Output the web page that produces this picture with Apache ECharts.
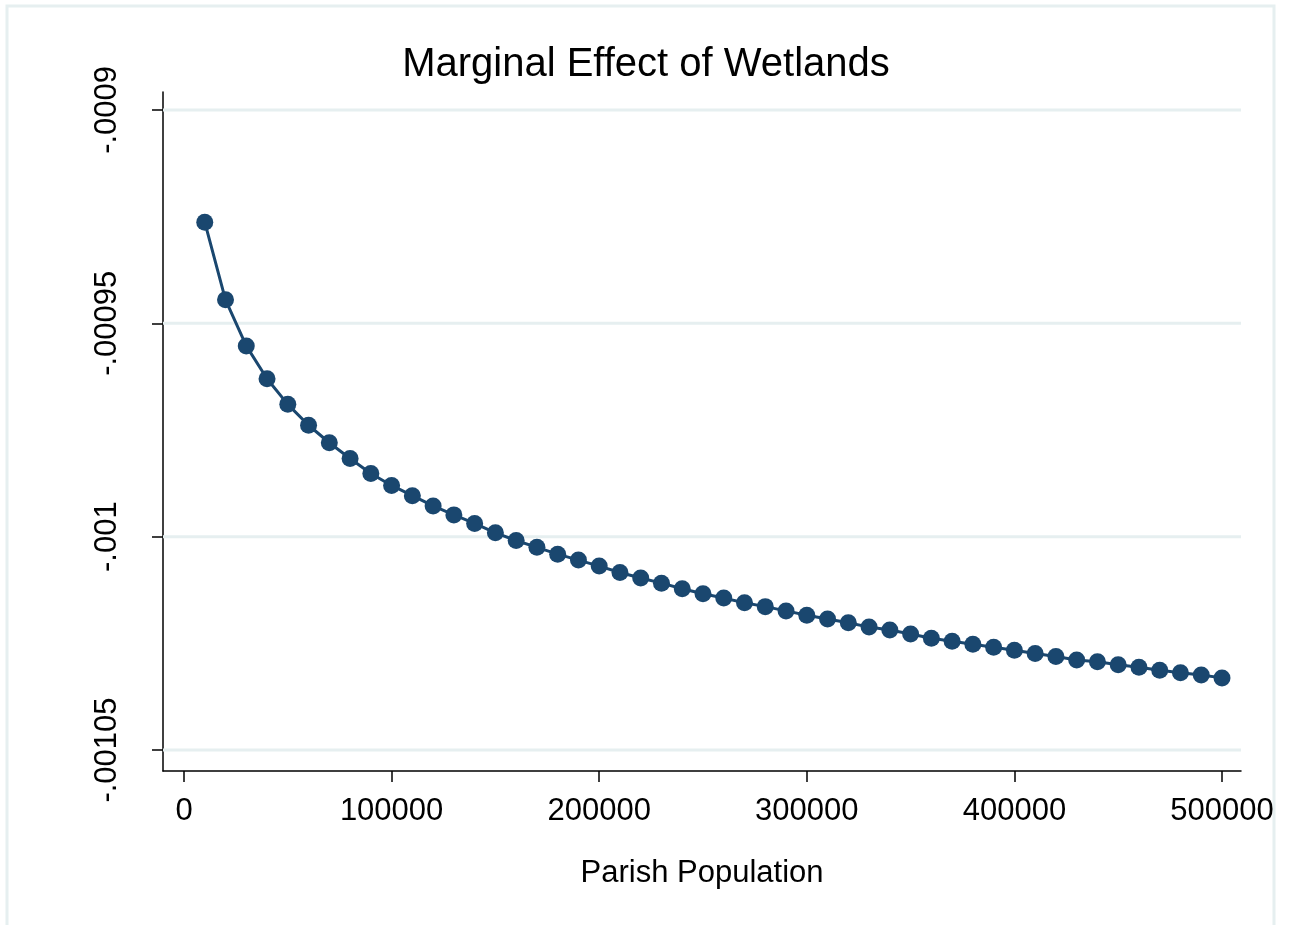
<!DOCTYPE html>
<html>
<head>
<meta charset="utf-8">
<script src="https://cdn.jsdelivr.net/npm/echarts@6/dist/echarts.min.js"></script>
<style>
html,body{margin:0;padding:0;background:#fff;}
#chart{width:1289px;height:925px;}
</style>
</head>
<body>
<div id="chart"></div>
<script>
// Data
const population = [10000,20000,30000,40000,50000,60000,70000,80000,90000,100000,
  110000,120000,130000,140000,150000,160000,170000,180000,190000,200000,
  210000,220000,230000,240000,250000,260000,270000,280000,290000,300000,
  310000,320000,330000,340000,350000,360000,370000,380000,390000,400000,
  410000,420000,430000,440000,450000,460000,470000,480000,490000,500000];
const marginalEffect = [-0.0009263,-0.0009445,-0.0009553,-0.0009630,-0.0009690,-0.0009739,-0.0009780,-0.0009817,-0.0009852,-0.0009880,
  -0.0009904,-0.0009928,-0.0009949,-0.0009969,-0.0009991,-0.0010009,-0.0010025,-0.0010041,-0.0010055,-0.0010069,
  -0.0010084,-0.0010097,-0.0010109,-0.0010122,-0.0010134,-0.0010144,-0.0010155,-0.0010164,-0.0010174,-0.0010184,
  -0.0010193,-0.0010202,-0.0010212,-0.0010219,-0.0010228,-0.0010238,-0.0010245,-0.0010252,-0.0010259,-0.0010266,
  -0.0010274,-0.0010281,-0.0010289,-0.0010293,-0.0010300,-0.0010306,-0.0010313,-0.0010319,-0.0010324,-0.0010331];
const xTicks = [0,100000,200000,300000,400000,500000];
const xTickLabels = ['0','100000','200000','300000','400000','500000'];
const yTicks = [-0.00105,-0.001,-0.00095,-0.0009];
const yTickLabels = ['-.00105','-.001','-.00095','-.0009'];
const titleText = 'Marginal Effect of Wetlands';
const xTitle = 'Parish Population';

const FONT = '"Liberation Sans", Arial, Helvetica, sans-serif';
const navy = '#1a476f';
const gridCol = '#e6eff0';

function lookup(ticks, labels, v){
  let best = 0, bd = Infinity;
  ticks.forEach((t,i)=>{ const d = Math.abs(t - v); if (d < bd){bd = d; best = i;} });
  return labels[best];
}

const seriesData = population.map((x,i)=>[x, marginalEffect[i]]);

const chart = echarts.init(document.getElementById('chart'), null, {renderer:'canvas'});
chart.setOption({
  animation:false,
  backgroundColor:'#fff',
  title:{
    text:titleText, left:641, top:40, textAlign:'center',
    textStyle:{fontFamily:FONT, fontSize:40, fontWeight:'normal', color:'#000'}
  },
  graphic:[{
    type:'rect', silent:true, z:-10,
    shape:{x:7, y:6, width:1267, height:940},
    style:{fill:'none', stroke:gridCol, lineWidth:3}
  }],
  grid:{left:163, right:48, top:92, bottom:154, containLabel:false},
  xAxis:{
    type:'value', min:-10116, max:509152,
    name:xTitle, nameLocation:'middle', nameGap:87,
    nameTextStyle:{fontFamily:FONT, fontSize:31, color:'#000'},
    axisLine:{show:true, onZero:false, lineStyle:{color:'#000', width:1.5}},
    axisTick:{show:true, length:11, inside:false, customValues:xTicks, lineStyle:{color:'#000', width:1.5}},
    axisLabel:{customValues:xTicks, margin:25, fontFamily:FONT, fontSize:31, color:'#000',
      formatter:(v)=>lookup(xTicks, xTickLabels, v)},
    splitLine:{show:false}
  },
  yAxis:{
    type:'value', min:-0.00105492, max:-0.0008958,
    axisLine:{show:true, onZero:false, lineStyle:{color:'#000', width:1.5}},
    axisTick:{show:true, length:11, inside:false, customValues:yTicks, lineStyle:{color:'#000', width:1.5}},
    axisLabel:{customValues:yTicks, rotate:90, margin:40, fontFamily:FONT, fontSize:31, color:'#000',
      formatter:(v)=>lookup(yTicks, yTickLabels, v)},
    splitLine:{show:false}
  },
  series:[
    {
      type:'custom', z:1, silent:true, clip:false,
      data:yTicks.map(v=>[xTicks[0], v]),
      encode:{x:0, y:1},
      renderItem:function(params, api){
        const cs = params.coordSys;
        const y = api.coord([api.value(0), api.value(1)])[1];
        return {
          type:'line', silent:true,
          shape:{x1:cs.x, y1:y, x2:cs.x + cs.width, y2:y},
          style:{stroke:gridCol, lineWidth:3}
        };
      }
    },
    {
      type:'line', z:3,
      data:seriesData,
      symbol:'circle', symbolSize:17, showSymbol:true,
      lineStyle:{color:navy, width:3},
      itemStyle:{color:navy, borderWidth:0}
    }
  ]
});
</script>
</body>
</html>
